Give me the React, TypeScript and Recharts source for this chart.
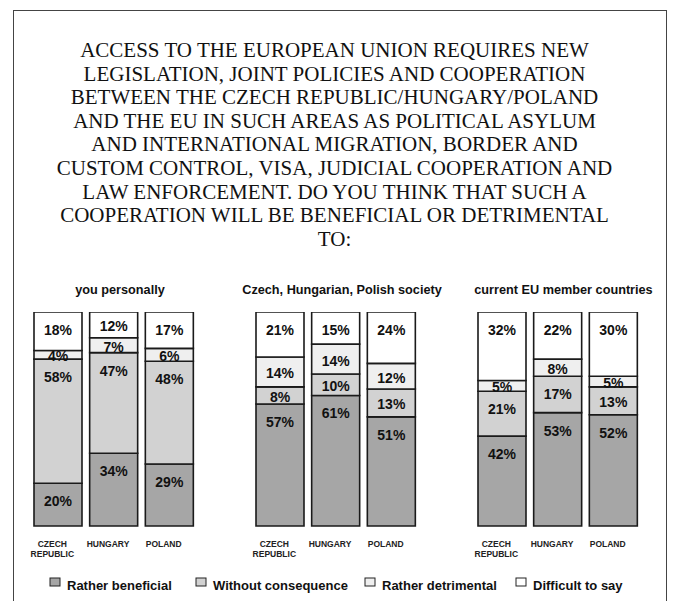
import { BarChart, Bar, XAxis, YAxis, LabelList } from 'recharts';

const categories = ['CZECH REPUBLIC', 'HUNGARY', 'POLAND'];

// you personally
const personalBeneficial = [20, 34, 29];
const personalWithout = [58, 47, 48];
const personalDetrimental = [4, 7, 6];
const personalDifficult = [18, 12, 17];

// Czech, Hungarian, Polish society
const societyBeneficial = [57, 61, 51];
const societyWithout = [8, 10, 13];
const societyDetrimental = [14, 14, 12];
const societyDifficult = [21, 15, 24];

// current EU member countries
const euBeneficial = [42, 53, 52];
const euWithout = [21, 17, 13];
const euDetrimental = [5, 8, 5];
const euDifficult = [32, 22, 30];

const seriesNames = ['Rather beneficial', 'Without consequence', 'Rather detrimental', 'Difficult to say'];
const seriesKeys = ['beneficial', 'without', 'detrimental', 'difficult'];
const seriesColors = ['#a6a6a6', '#d2d2d2', '#efefef', '#ffffff'];

const panelTitles = ['you personally', 'Czech, Hungarian, Polish society', 'current EU member countries'];

const titleLines = [
  'ACCESS TO THE EUROPEAN UNION REQUIRES NEW',
  'LEGISLATION, JOINT POLICIES AND COOPERATION',
  'BETWEEN THE CZECH REPUBLIC/HUNGARY/POLAND',
  'AND THE EU IN SUCH AREAS AS POLITICAL ASYLUM',
  'AND INTERNATIONAL MIGRATION, BORDER AND',
  'CUSTOM CONTROL, VISA, JUDICIAL COOPERATION AND',
  'LAW ENFORCEMENT. DO YOU THINK THAT SUCH A',
  'COOPERATION WILL BE BENEFICIAL OR DETRIMENTAL',
  'TO:',
];

const SANS = "'Liberation Sans', Arial, sans-serif";
const SERIF = "'Liberation Serif', 'Times New Roman', serif";

const buildRows = (b: number[], w: number[], r: number[], d: number[]) =>
  categories.map((cat, i) => ({ cat, beneficial: b[i], without: w[i], detrimental: r[i], difficult: d[i] }));

const panels = [
  { rows: buildRows(personalBeneficial, personalWithout, personalDetrimental, personalDifficult), left: 30, titleX: 120 },
  { rows: buildRows(societyBeneficial, societyWithout, societyDetrimental, societyDifficult), left: 252, titleX: 342 },
  { rows: buildRows(euBeneficial, euWithout, euDetrimental, euDifficult), left: 473.5, titleX: 563.5 },
];

// legend swatch left edges; text starts 17px after
const legendX = [50, 196, 365, 516];

const sansStyle = { fontFamily: SANS, fontWeight: 'bold' as const };

const SegLabel = (props: any) => {
  const vb = props.viewBox || {};
  const x = props.x ?? vb.x;
  let y = props.y ?? vb.y;
  const w = props.width ?? vb.width;
  let h = props.height ?? vb.height;
  if (h < 0) {
    y += h;
    h = -h;
  }
  const cy = y + Math.min(18, h / 2 + 1.5);
  return (
    <text x={x + w / 2} y={cy + 5} textAnchor="middle" fill="#111" style={{ ...sansStyle, fontSize: 14 }}>
      {props.value}%
    </text>
  );
};

const CatTick = ({ x, payload }: any) => {
  const lines = String(payload.value).split(' ');
  return (
    <g>
      {lines.map((l, i) => (
        <text key={i} x={x - 5.5} y={235 + i * 10} textAnchor="middle" fill="#222" style={{ ...sansStyle, fontSize: 8.5 }}>
          {l}
        </text>
      ))}
    </g>
  );
};

function Panel({ rows, left }: { rows: any[]; left: number }) {
  return (
    <div style={{ position: 'absolute', left, top: 312 }}>
      <BarChart width={167} height={260} data={rows} margin={{ top: 0, right: 0, bottom: 0, left: 0 }} barSize={48} barCategoryGap={0}>
        <XAxis dataKey="cat" height={46} axisLine={false} tickLine={false} interval={0} tick={<CatTick />} />
        <YAxis hide domain={[0, 100]} />
        {seriesKeys.map((k, i) => (
          <Bar key={k} dataKey={k} stackId="a" fill={seriesColors[i]} stroke="#1a1a1a" strokeWidth={1.6} isAnimationActive={false}>
            <LabelList dataKey={k} content={<SegLabel />} />
          </Bar>
        ))}
      </BarChart>
    </div>
  );
}

export default function App() {
  return (
    <div style={{ position: 'absolute', left: 0, top: 0, width: 675, height: 601, background: '#fff', overflow: 'hidden' }}>
      <div style={{ position: 'absolute', left: 13, top: 10, width: 652, height: 600, border: '1px solid #444' }} />
      <div
        style={{
          position: 'absolute',
          left: 0,
          top: 39,
          width: 669,
          textAlign: 'center',
          fontFamily: SERIF,
          fontSize: 21,
          lineHeight: '23.6px',
          color: '#111',
          whiteSpace: 'nowrap',
        }}
      >
        {titleLines.map((t, i) => (
          <div key={i}>{t}</div>
        ))}
      </div>
      <svg width={675} height={601} style={{ position: 'absolute', left: 0, top: 0, pointerEvents: 'none' }}>
        {panelTitles.map((t, i) => (
          <text key={t} x={panels[i].titleX} y={294} textAnchor="middle" fill="#111" style={{ ...sansStyle, fontSize: 12.7 }}>
            {t}
          </text>
        ))}
        {seriesNames.map((n, i) => (
          <g key={n}>
            <rect x={legendX[i]} y={578} width={10} height={8} fill={seriesColors[i]} stroke="#222" strokeWidth={1} />
            <text x={legendX[i] + 17} y={590} fill="#111" style={{ ...sansStyle, fontSize: 13 }}>
              {n}
            </text>
          </g>
        ))}
      </svg>
      {panels.map((p, i) => (
        <Panel key={i} rows={p.rows} left={p.left} />
      ))}
    </div>
  );
}
